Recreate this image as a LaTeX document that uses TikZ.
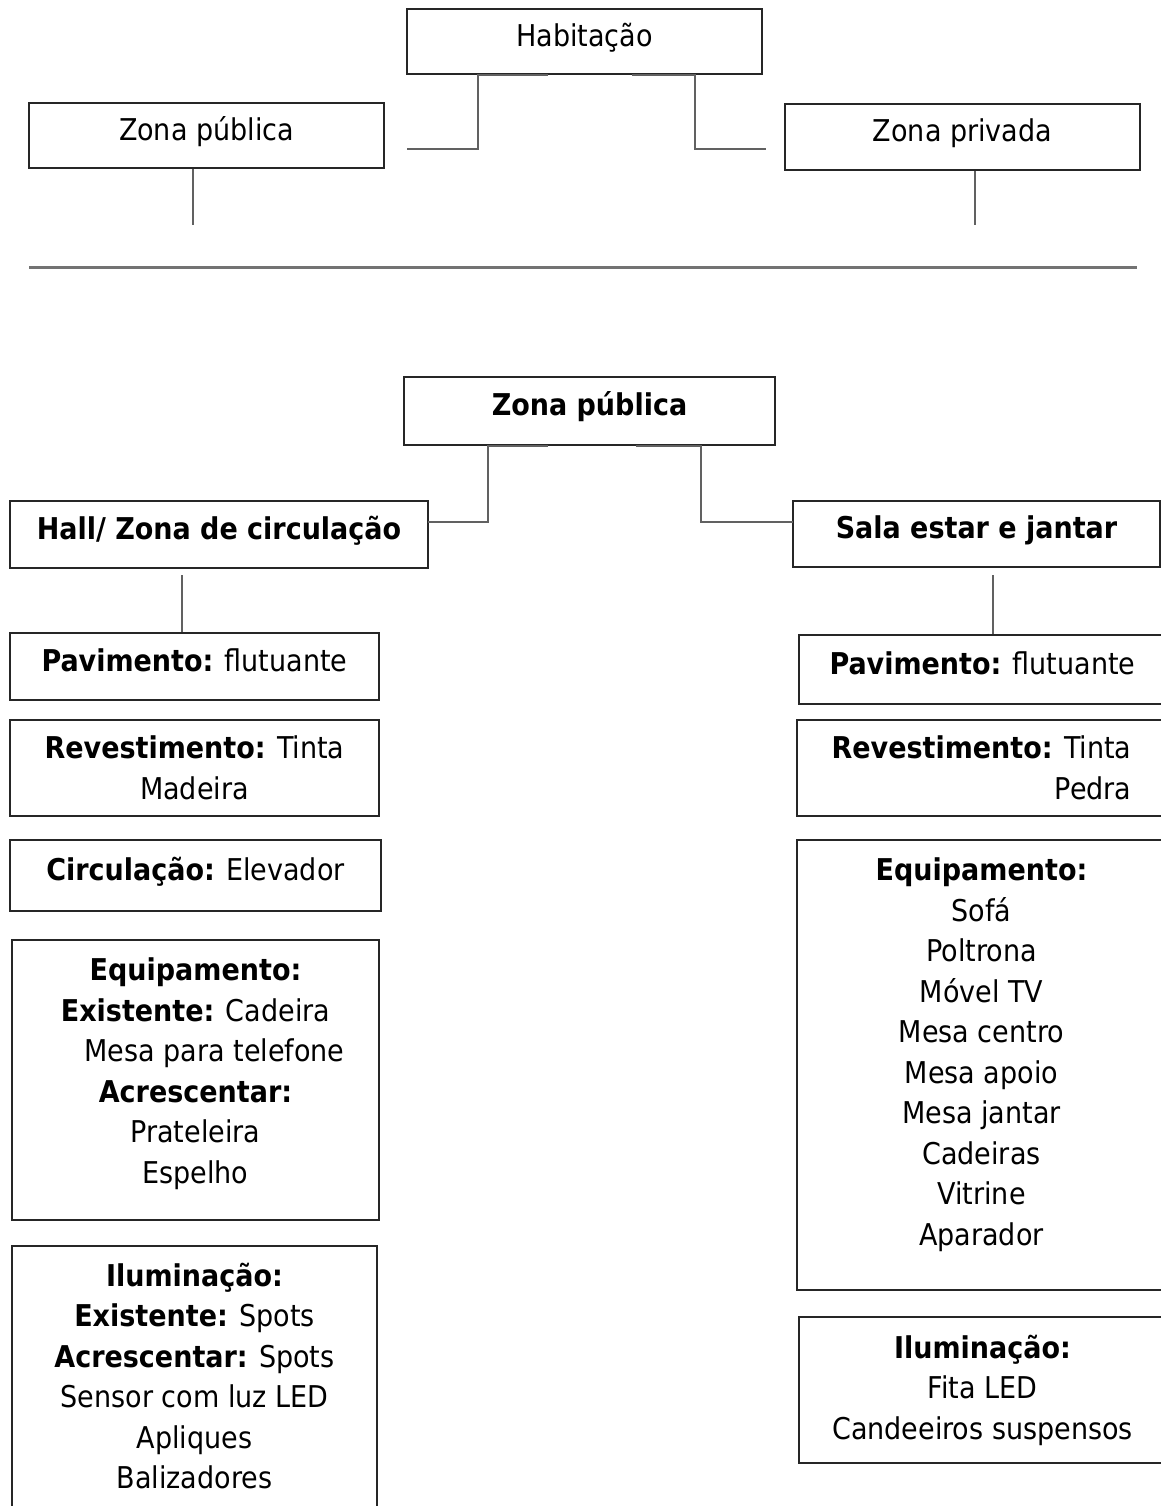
\documentclass[tikz,border=0pt]{standalone}
\usepackage{fontspec}
\setmainfont{DejaVu Sans Condensed}
\usepackage{tikz}
\usetikzlibrary{positioning}
\newcommand{\boxw}{0.8pt}
\newcommand{\linkw}{0.8pt}
\tikzset{
    zonebox/.style = {draw = black!85, line width = \boxw, align = center, inner sep = 0pt,
                      font = \fontsize{15}{20.25}\selectfont},
    oneline/.style = {text height = 11pt, text depth = 6.5pt},
    boxwh/.style 2 args = {minimum width = #1*0.5pt, minimum height = #2*0.5pt},
    link/.style = {draw = black!62, line width = \linkw},
    ruler/.style = {draw = black!55, line width = 1.5pt}
}

\begin{document}
\begin{tikzpicture}[x = 0.5pt, y = -0.5pt]
                %\draw[help lines] (0,0) grid[step=100] (1161,1506);
                \useasboundingbox (0, 0) rectangle (1161, 1506);

                % top scheme
                \begin{scope}[zonebox/.append style = {oneline}]
                    \node[zonebox, boxwh = {355}{65}] (hab) at (584.5, 41.5) {Habitação};
                    \node[zonebox, boxwh = {355}{65}] (zpub) at (206.5, 135.5) {Zona pública};
                    \node[zonebox, boxwh = {355}{66}] (zpriv) at (962.5, 137) {Zona privada};
                    \coordinate (habl) at (548, 75);
                    \coordinate (habll) at (478, 75);
                    \coordinate (habr) at (632, 75);
                    \coordinate (habrr) at (695, 75);
                    \coordinate (zpubin) at (407, 149);
                    \coordinate (zprivin) at (766, 149);
                    \coordinate (zpubend) at (193, 225);
                    \coordinate (zprivend) at (975, 225);
                    \draw[link] (habl) -- (habll) |- (zpubin);
                    \draw[link] (habr) -- (habrr) |- (zprivin);
                    \draw[link] (zpubend |- zpub.south) -- (zpubend);
                    \draw[link] (zprivend |- zpriv.south) -- (zprivend);
                \end{scope}

                \draw[ruler] (29, 267) -- (1137, 267);

                % zona publica
                \begin{scope}[zonebox/.append style = {oneline, font = \fontsize{15}{20.25}\selectfont\bfseries}]
                    \node[zonebox, boxwh = {371}{68}] (pub) at (589.5, 411) {Zona pública};
                    \node[zonebox, boxwh = {418}{67}] (hall) at (219, 534.5) {Hall/ Zona de circulação};
                    \node[zonebox, boxwh = {367}{66}] (sala) at (976.5, 534) {Sala estar e jantar};
                \end{scope}
                \coordinate (publ) at (548, 446);
                \coordinate (publl) at (488, 446);
                \coordinate (pubr) at (636, 446);
                \coordinate (pubrr) at (701, 446);
                \coordinate (hallin) at (428, 522);
                \coordinate (salain) at (793, 522);
                \draw[link] (publ) -- (publl) |- (hallin);
                \draw[link] (pubr) -- (pubrr) |- (salain);

                % hall
                \begin{scope}
                    \node[zonebox, oneline, boxwh = {369}{67}] (hallpav) at (194.5, 666.5) {\textbf{Pavimento:} flutuante};
                    \node[zonebox, boxwh = {369}{96}] (hallrev) at (194.5, 768) {\textbf{Revestimento:} Tinta\\ Madeira};
                    \node[zonebox, oneline, boxwh = {371}{71}] (hallcirc) at (195.5, 875.5) {\textbf{Circulação:} Elevador};
                    \node[zonebox, boxwh = {367}{280}, text depth = 9.5pt] (halleq) at (195.5, 1080) {\textbf{Equipamento:}\\ \textbf{Existente:} Cadeira\\
                        \hspace*{19pt}Mesa para telefone\\ \textbf{Acrescentar:}\\ Prateleira\\ Espelho};
                    \node[zonebox, boxwh = {365}{10}, anchor = north, inner ysep = 8.5pt, text depth = 12pt] (hallilum) at (194.5, 1245) {\textbf{Iluminação:}\\
                        \textbf{Existente:} Spots\\ \textbf{Acrescentar:} Spots\\ Sensor com luz LED\\ Apliques\\ Balizadores};
                    \coordinate (hallv) at (182, 575);
                    \draw[link] (hallv) -- (hallv |- hallpav.north);
                \end{scope}

                % sala
                \begin{scope}
                    \node[zonebox, oneline, boxwh = {367}{69}] (salapav) at (982.5, 669.5) {\textbf{Pavimento:} flutuante};
                    \node[zonebox, boxwh = {369}{96}, align = right] (salarev) at (981.5, 768) {\textbf{Revestimento:} Tinta\\ Pedra};
                    \node[zonebox, boxwh = {369}{450}, text depth = 13.5pt] (salaeq) at (981.5, 1065) {\textbf{Equipamento:}\\ Sofá\\ Poltrona\\ Móvel TV\\
                        Mesa centro\\ Mesa apoio\\ Mesa jantar\\ Cadeiras\\ Vitrine\\ Aparador};
                    \node[zonebox, boxwh = {367}{146}] (salailum) at (982.5, 1390) {\textbf{Iluminação:}\\ Fita LED\\ Candeeiros suspensos};
                    \coordinate (salav) at (993, 575);
                    \draw[link] (salav) -- (salav |- salapav.north);
                \end{scope}

\end{tikzpicture}
\end{document}
